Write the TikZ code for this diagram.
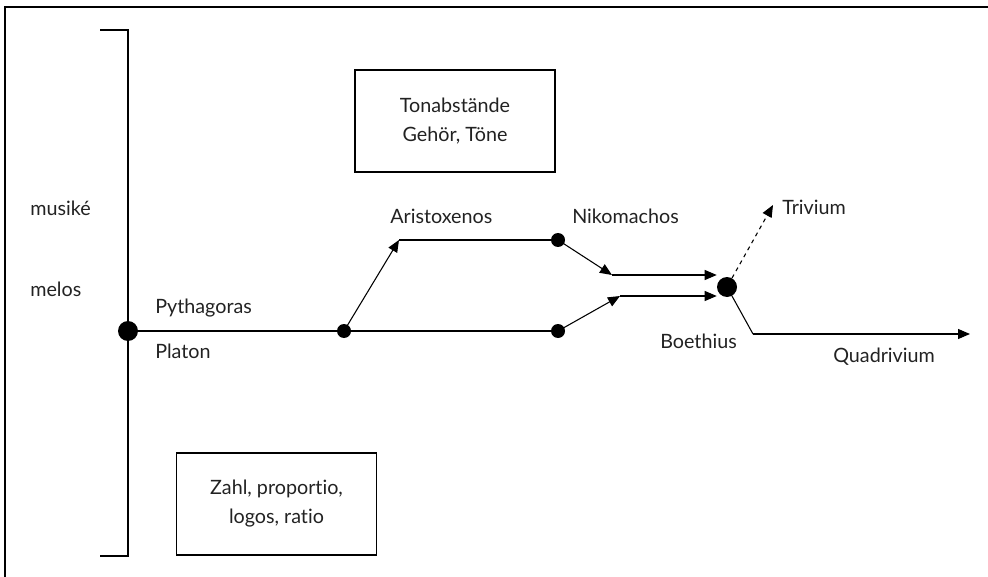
\documentclass[tikz,border=0pt]{standalone}
\usepackage{fontspec}
\setmainfont{Lato}[Ligatures={NoCommon,NoRare}]
\usepackage{tikz}
\usetikzlibrary{arrows.meta,positioning}
\definecolor{inkblack}{HTML}{000000}
\definecolor{textgray}{HTML}{222222}
\tikzset{
  bigdot/.style={circle,fill=inkblack,inner sep=0pt,minimum size=15pt},
  smalldot/.style={circle,fill=inkblack,inner sep=0pt,minimum size=10.5pt},
  lbl/.style={font=\fontsize{14.8}{17}\selectfont,text=textgray,inner sep=0pt,anchor=west},
  topicbox/.style={draw=inkblack,thick,align=center,font=\fontsize{14.8}{21.75}\selectfont,text=textgray,minimum width=150pt,minimum height=76.5pt},
  flowline/.style={draw=inkblack,thick},
  flowarrow/.style={-{Triangle[length=9pt,width=7.5pt]},draw=inkblack,thick},
}
\begin{document}
\begin{tikzpicture}[x=0.75pt,y=-0.75pt]
    \useasboundingbox (0,0) rectangle (988,577);
    % frame
    \draw[flowline] (988,7) -- (5,7) -- (5,577);
    % bracket
    \draw[flowline] (100,30) -- (128,30) -- (128,556) -- (100,556);
    \node[lbl] (musike) at (30,208) {musiké};
    \node[lbl] (melos) at (30,289) {melos};
    % boxes
    \node[topicbox] (tonbox) at (455,121) {Tonabstände\\Gehör, Töne};
    \node[topicbox] (zahlbox) at (276.5,504) {Zahl, proportio,\\logos, ratio};
    % dots
    \node[bigdot] (pyth) at (128,331) {};
    \node[smalldot] (split) at (344,331) {};
    \node[smalldot] (nik) at (558,240) {};
    \node[smalldot] (low) at (558,331) {};
    \node[bigdot] (boeth) at (727,287) {};
    \coordinate (aris) at (399,240);
    \coordinate (nikin) at (612,275);
    \coordinate (lowin) at (620,296);
    \coordinate (trivtip) at (773,205);
    \coordinate (quadknee) at (753,334);
    \coordinate (quadtip) at (970,334);
    % labels
    \node[lbl] (pythlbl) at (155,308) {Pythagoras};
    \node[lbl] (platlbl) at (155,351) {Platon};
    \node[lbl] (arislbl) at (390,216) {Aristoxenos};
    \node[lbl] (niklbl) at (572,216) {Nikomachos};
    \node[lbl] (boethlbl) at (660,341) {Boethius};
    \node[lbl] (trivlbl) at (782,207) {Trivium};
    \node[lbl] (quadlbl) at (833,357) {Quadrivium};
    % connectors
    \draw[flowline] (pyth) -- (split) -- (low);
    \draw[flowarrow] (split.center) -- (aris);
    \draw[flowline] (aris) -- (nik);
    \draw[flowarrow] (nik.center) -- (nikin);
    \draw[flowarrow] (nikin) -- (boeth.west|-nikin);
    \draw[flowarrow] (low.center) -- (lowin);
    \draw[flowarrow] (lowin) -- (boeth.west|-lowin);
    \draw[flowarrow,dashed] (boeth) -- (trivtip);
    \draw[flowline] (boeth.center) -- (quadknee);
    \draw[flowarrow] (quadknee) -- (quadtip);
  \end{tikzpicture}
\end{document}
